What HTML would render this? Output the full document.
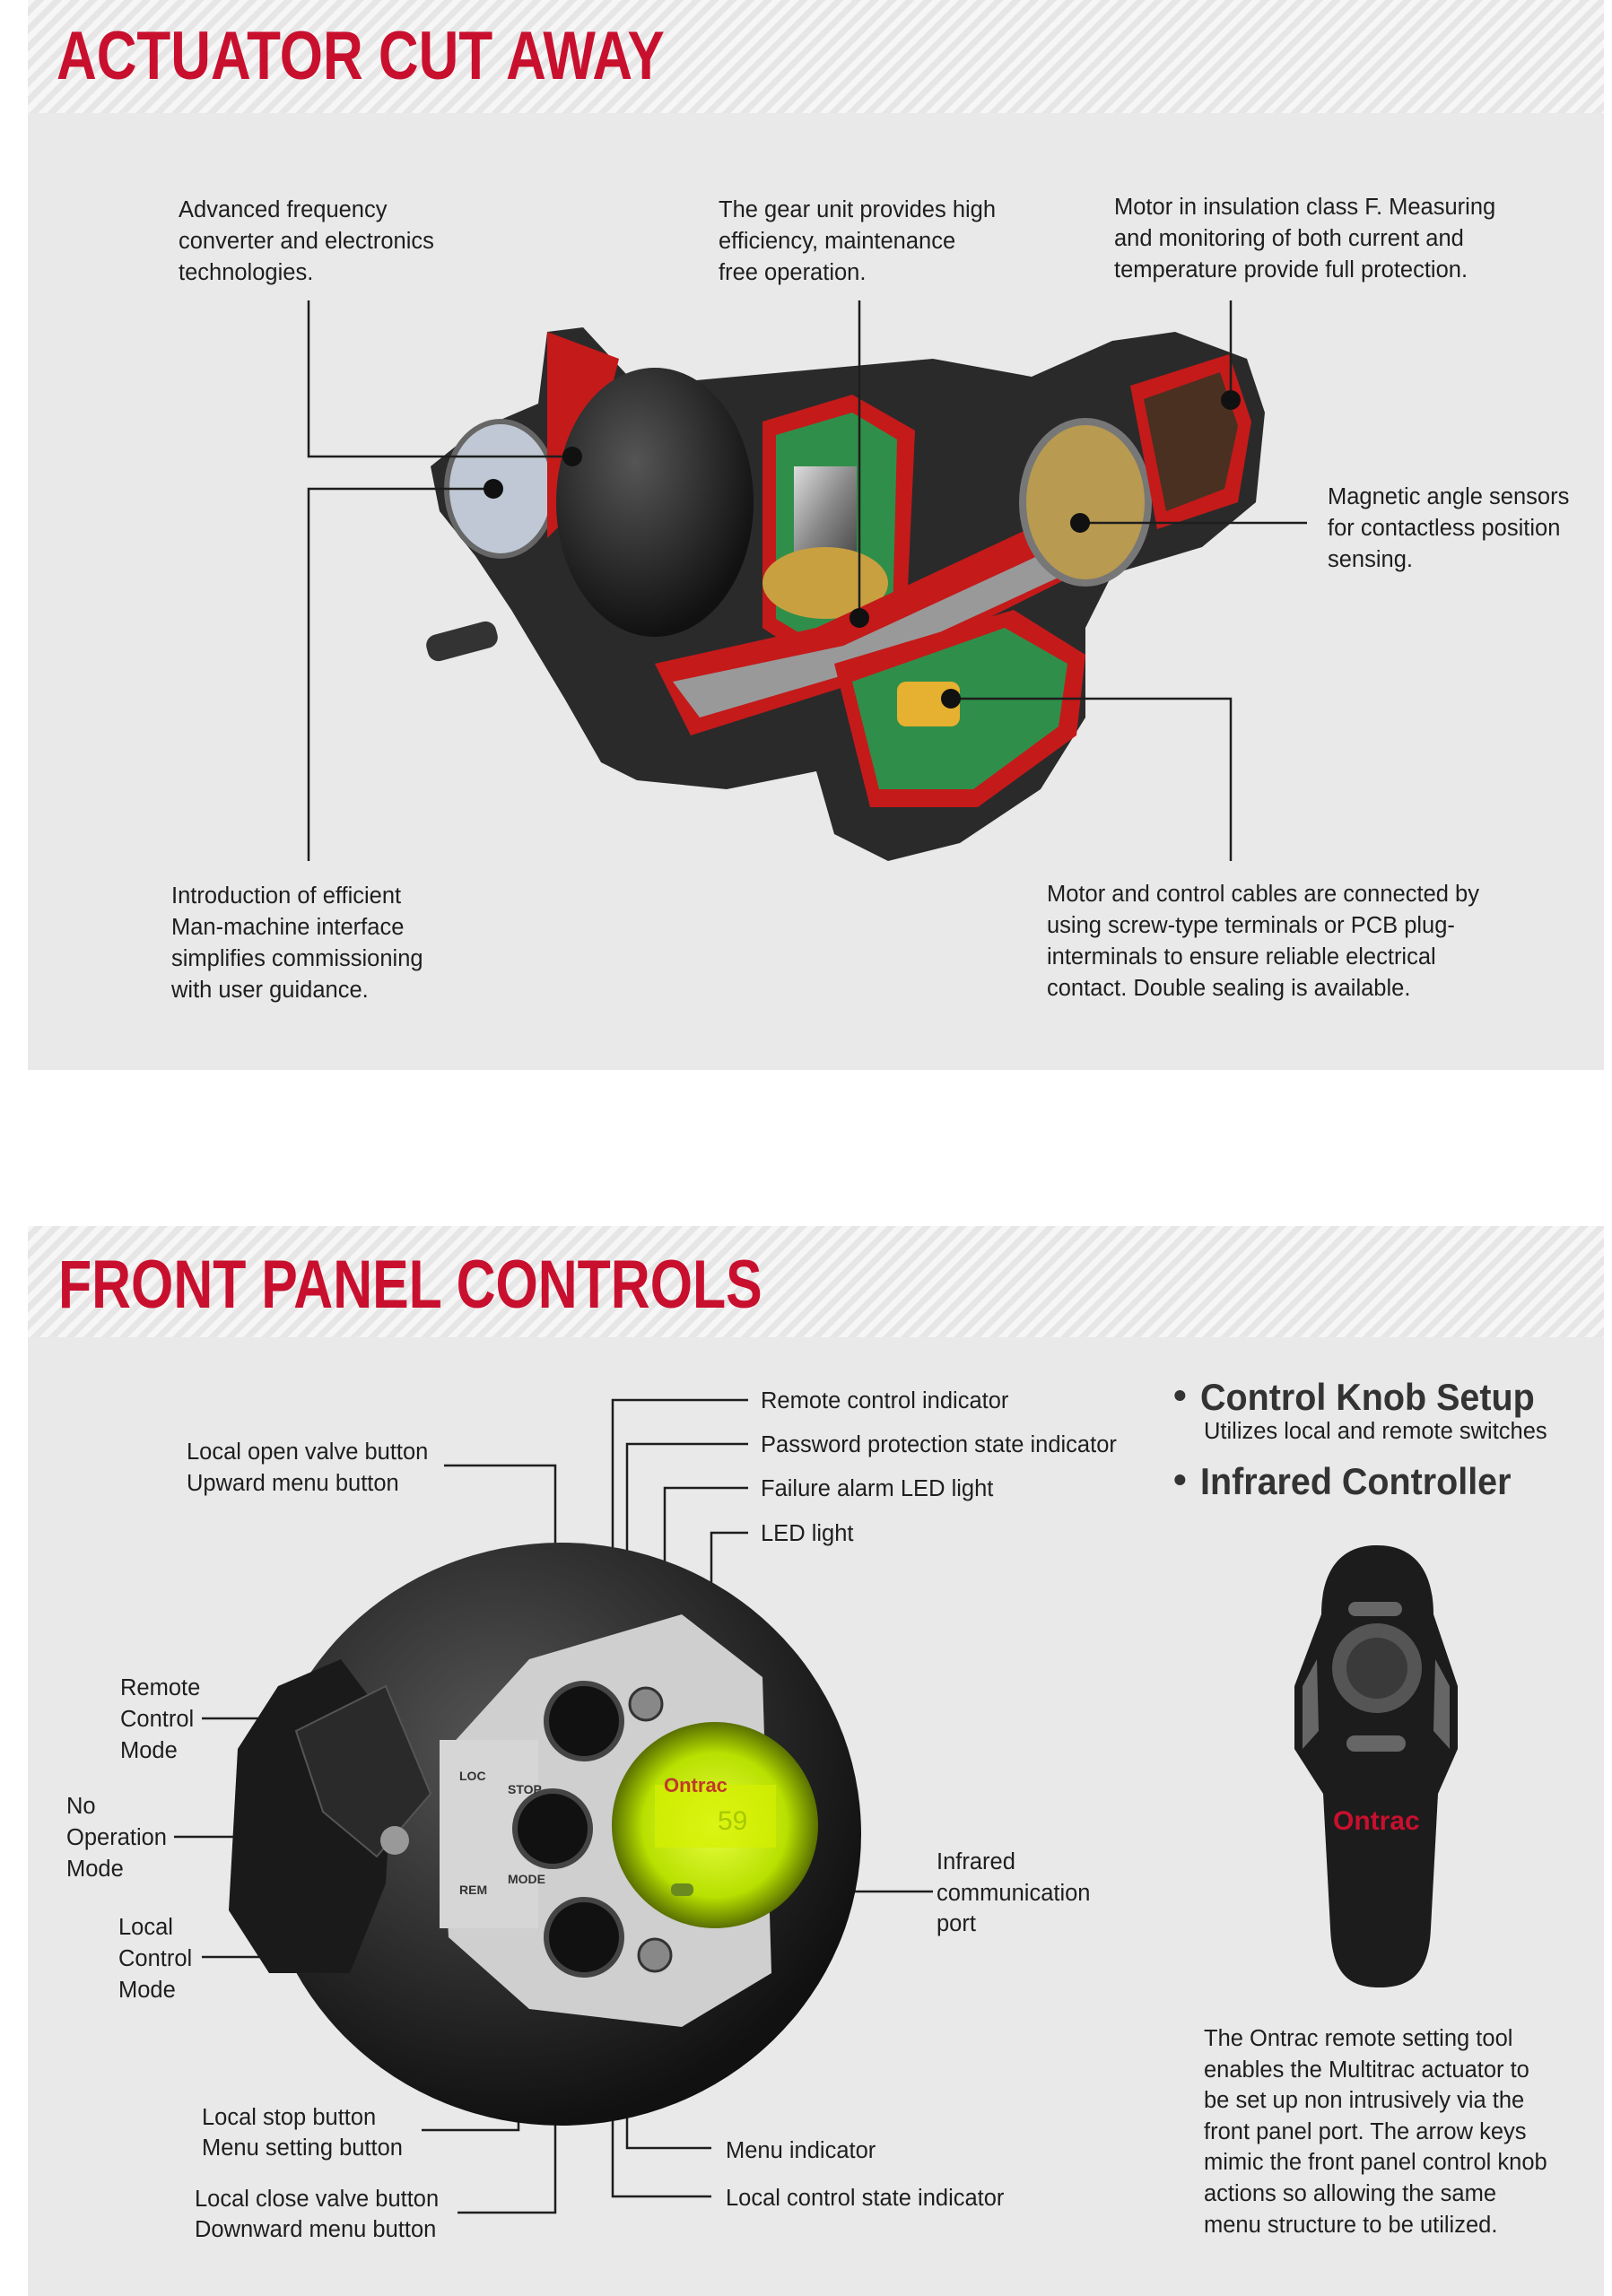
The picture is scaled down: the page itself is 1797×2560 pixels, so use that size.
<!DOCTYPE html>
<html><head><meta charset="utf-8"><style>
html,body{margin:0;padding:0;background:#fff;}
svg{display:block;}
text{font-family:"Liberation Sans",Arial,sans-serif;}
.l{font-size:25.5px;fill:#1e1e1e;}
</style></head><body>
<svg width="1797" height="2560" viewBox="0 0 1797 2560" xmlns="http://www.w3.org/2000/svg">
<defs>
<pattern id="st" width="14" height="14" patternUnits="userSpaceOnUse" patternTransform="rotate(45)">
<rect width="14" height="14" fill="#f6f6f6"/><rect width="7" height="14" fill="#e6e6e6"/>
</pattern>
<radialGradient id="gr" cx="50%" cy="50%" r="50%"><stop offset="0" stop-color="#e8ff40"/><stop offset="0.7" stop-color="#b8e000"/><stop offset="1" stop-color="#5a7000"/></radialGradient>
<radialGradient id="bk" cx="40%" cy="35%" r="65%"><stop offset="0" stop-color="#555"/><stop offset="1" stop-color="#111"/></radialGradient>
<linearGradient id="mt" x1="0" y1="0" x2="1" y2="1"><stop offset="0" stop-color="#ddd"/><stop offset="0.5" stop-color="#888"/><stop offset="1" stop-color="#444"/></linearGradient>
</defs>

<!-- PANEL 1 -->
<rect x="31" y="0" width="1757" height="126" fill="url(#st)"/>
<rect x="31" y="126" width="1757" height="1067" fill="#e9e9e9"/>
<text x="63" y="88" font-size="76" font-weight="bold" fill="#c8102e" transform="translate(63 0) scale(0.815 1) translate(-63 0)">ACTUATOR CUT AWAY</text>

<!-- actuator drawing -->
<g>
<path d="M710 430 L1040 400 L1150 420 L1240 380 L1310 370 L1390 400 L1410 460 L1400 560 L1340 610 L1240 640 L1210 700 L1210 800 L1160 880 L1070 940 L990 960 L930 930 L910 860 L810 880 L710 870 L670 850 L630 780 L570 680 L530 620 L490 570 L480 520 L530 480 L600 450 L610 370 L650 365 Z" fill="#2a2a2a"/>
<ellipse cx="558" cy="545" rx="60" ry="75" fill="#bfc8d4" stroke="#666" stroke-width="6"/>
<path d="M610 370 L690 400 L650 560 L610 600 L610 470 Z" fill="#c41a1a"/>
<ellipse cx="730" cy="560" rx="110" ry="150" fill="url(#bk)"/>
<path d="M850 470 L950 440 L1020 480 L1010 700 L910 740 L850 700 Z" fill="#c41a1a"/>
<path d="M865 485 L950 460 L1000 490 L995 690 L915 720 L865 690 Z" fill="#2f8f4a"/>
<rect x="885" y="520" width="70" height="110" fill="url(#mt)"/>
<ellipse cx="920" cy="650" rx="70" ry="40" fill="#c9a040"/>
<path d="M730 740 L910 700 L1210 560 L1240 620 L960 760 L770 820 Z" fill="#c41a1a"/>
<path d="M750 760 L940 720 L1200 600 L1210 630 L950 750 L780 800 Z" fill="#999"/>
<path d="M930 740 L1130 680 L1210 730 L1200 820 L1090 900 L970 900 Z" fill="#c41a1a"/>
<path d="M950 760 L1120 700 L1190 740 L1180 810 L1085 880 L980 880 Z" fill="#2f8f4a"/>
<rect x="1000" y="760" width="70" height="50" rx="10" fill="#e6b030"/>
<ellipse cx="1210" cy="560" rx="70" ry="90" fill="#b89a50" stroke="#777" stroke-width="8"/>
<path d="M1260 430 L1370 395 L1395 470 L1380 560 L1290 590 Z" fill="#c41a1a"/>
<path d="M1275 445 L1360 415 L1380 475 L1365 545 L1300 570 Z" fill="#4a3020"/>
<rect x="475" y="700" width="80" height="30" rx="12" fill="#333" transform="rotate(-15 515 715)"/>
</g>
<!-- panel1 connectors -->
<g stroke="#1e1e1e" stroke-width="2.5" fill="none">
<polyline points="344,335 344,509 638,509"/>
<polyline points="344,960 344,545 550,545"/>
<line x1="958" y1="335" x2="958" y2="689"/>
<line x1="1372" y1="335" x2="1372" y2="446"/>
<line x1="1204" y1="583" x2="1457" y2="583"/>
<polyline points="1060,779 1372,779 1372,960"/>
</g>
<g fill="#111">
<circle cx="638" cy="509" r="11"/><circle cx="550" cy="545" r="11"/><circle cx="958" cy="689" r="11"/>
<circle cx="1372" cy="446" r="11"/><circle cx="1204" cy="583" r="11"/><circle cx="1060" cy="779" r="11"/>
</g>
<g class="l">
<text x="199" y="242">Advanced frequency</text><text x="199" y="277">converter and electronics</text><text x="199" y="312">technologies.</text>
<text x="801" y="242">The gear unit provides high</text><text x="801" y="277">efficiency, maintenance</text><text x="801" y="312">free operation.</text>
<text x="1242" y="239">Motor in insulation class F. Measuring</text><text x="1242" y="274">and monitoring of both current and</text><text x="1242" y="309">temperature provide full protection.</text>
<text x="1480" y="562">Magnetic angle sensors</text><text x="1480" y="597">for contactless position</text><text x="1480" y="632">sensing.</text>
<text x="191" y="1007">Introduction of efficient</text><text x="191" y="1042">Man-machine interface</text><text x="191" y="1077">simplifies commissioning</text><text x="191" y="1112">with user guidance.</text>
<text x="1167" y="1005">Motor and control cables are connected by</text><text x="1167" y="1040">using screw-type terminals or PCB plug-</text><text x="1167" y="1075">interminals to ensure reliable electrical</text><text x="1167" y="1110">contact. Double sealing is available.</text>
</g>

<!-- PANEL 2 -->
<rect x="31" y="1367" width="1757" height="124" fill="url(#st)"/>
<rect x="31" y="1491" width="1757" height="1069" fill="#e9e9e9"/>
<text x="65" y="1458" font-size="76" font-weight="bold" fill="#c8102e" transform="translate(65 0) scale(0.8 1) translate(-65 0)">FRONT PANEL CONTROLS</text>

<!-- connectors panel2 -->
<g stroke="#1e1e1e" stroke-width="2.5" fill="none">
<polyline points="834,1561 683,1561 683,2033 703,2033"/>
<polyline points="834,1610 699,1610 699,2011 714,2011"/>
<polyline points="834,1659 741,1659 741,1967"/>
<polyline points="834,1709 793,1709 793,1965"/>
<polyline points="793,2449 683,2449 683,2047 703,2047"/>
<polyline points="793,2395 699,2395 699,2067 714,2067"/>
<polyline points="495,1634 619,1634 619,2467 510,2467"/>
<polyline points="470,2375 578,2375 578,2300"/>
<line x1="225" y1="1916" x2="334" y2="1916"/>
<line x1="194" y1="2048" x2="305" y2="2048"/>
<line x1="225" y1="2182" x2="328" y2="2182"/>
<line x1="772" y1="2109" x2="1040" y2="2109"/>
</g>
<!-- front panel device -->
<g>
<ellipse cx="625" cy="2045" rx="335" ry="325" fill="url(#bk)"/>
<path d="M310 1880 L380 1850 L440 1930 L430 2100 L390 2200 L300 2200 L255 2130 L265 1950 Z" fill="#1a1a1a"/>
<path d="M330 1930 L430 1880 L480 2000 L420 2070 L360 2020 Z" fill="#2a2a2a" stroke="#555" stroke-width="2"/>
<circle cx="440" cy="2052" r="16" fill="#999"/>
<path d="M590 1850 L760 1800 L850 1870 L860 2200 L760 2260 L590 2240 L500 2160 L490 1960 Z" fill="#cfcfcf"/>
<rect x="490" y="1940" width="110" height="210" fill="#d6d6d6"/>
<circle cx="797" cy="2035" r="115" fill="url(#gr)"/>
<rect x="730" y="1990" width="135" height="70" fill="#d6f000" opacity="0.7"/>
<text x="740" y="1998" font-size="22" font-weight="bold" fill="#c0392b">Ontrac</text>
<text x="800" y="2040" font-size="30" fill="#a8c800">59</text>
<circle cx="651" cy="1919" r="42" fill="#111" stroke="#444" stroke-width="6"/>
<circle cx="616" cy="2039" r="42" fill="#111" stroke="#444" stroke-width="6"/>
<circle cx="651" cy="2160" r="42" fill="#111" stroke="#444" stroke-width="6"/>
<circle cx="720" cy="1900" r="18" fill="#888" stroke="#333" stroke-width="3"/>
<circle cx="730" cy="2180" r="18" fill="#888" stroke="#333" stroke-width="3"/>
<text x="566" y="2000" font-size="14" font-weight="bold" fill="#333">STOP</text>
<text x="566" y="2100" font-size="14" font-weight="bold" fill="#333">MODE</text>
<text x="512" y="1985" font-size="14" font-weight="bold" fill="#333">LOC</text>
<text x="512" y="2112" font-size="14" font-weight="bold" fill="#333">REM</text>
<rect x="748" y="2100" width="25" height="14" rx="6" fill="#6a8a20"/>
</g>
<g class="l">
<text x="848" y="1570">Remote control indicator</text>
<text x="848" y="1619">Password protection state indicator</text>
<text x="848" y="1668">Failure alarm LED light</text>
<text x="848" y="1718">LED light</text>
<text x="208" y="1627">Local open valve button</text><text x="208" y="1662">Upward menu button</text>
<text x="134" y="1890">Remote</text><text x="134" y="1925">Control</text><text x="134" y="1960">Mode</text>
<text x="74" y="2022">No</text><text x="74" y="2057">Operation</text><text x="74" y="2092">Mode</text>
<text x="132" y="2157">Local</text><text x="132" y="2192">Control</text><text x="132" y="2227">Mode</text>
<text x="1044" y="2084">Infrared</text><text x="1044" y="2119">communication</text><text x="1044" y="2153">port</text>
<text x="225" y="2369">Local stop button</text><text x="225" y="2403">Menu setting button</text>
<text x="217" y="2460">Local close valve button</text><text x="217" y="2494">Downward menu button</text>
<text x="809" y="2406">Menu indicator</text>
<text x="809" y="2459">Local control state indicator</text>
</g>

<!-- right column -->
<g fill="#333" font-weight="bold" font-size="42">
<text x="1308" y="1570">•</text>
<text x="1338" y="1572" transform="translate(1338 0) scale(0.94 1) translate(-1338 0)">Control Knob Setup</text>
<text x="1308" y="1664">•</text>
<text x="1338" y="1666" transform="translate(1338 0) scale(0.94 1) translate(-1338 0)">Infrared Controller</text>
</g>
<text class="l" x="1342" y="1604">Utilizes local and remote switches</text>
<!-- remote -->
<g>
<path d="M1535 1723 C1583 1723 1598 1760 1598 1800 L1625 1880 L1625 1950 L1603 2000 L1595 2150 C1593 2200 1573 2216 1538 2216 C1503 2216 1485 2200 1483 2150 L1475 2000 L1443 1950 L1443 1880 L1473 1800 C1473 1760 1488 1723 1535 1723 Z" fill="#1c1c1c"/>
<path d="M1452 1880 L1468 1850 L1470 1930 L1452 1950 Z" fill="#666"/>
<path d="M1616 1880 L1600 1850 L1598 1930 L1616 1950 Z" fill="#666"/>
<circle cx="1535" cy="1860" r="50" fill="#555"/>
<circle cx="1535" cy="1860" r="34" fill="#3a3a3a"/>
<rect x="1503" y="1786" width="60" height="16" rx="8" fill="#666"/>
<rect x="1501" y="1935" width="66" height="18" rx="9" fill="#666"/>
<text x="1486" y="2040" font-size="30" font-weight="bold" fill="#c8102e">Ontrac</text>
</g>
<g class="l">
<text x="1342" y="2281">The Ontrac remote setting tool</text>
<text x="1342" y="2316">enables the Multitrac actuator to</text>
<text x="1342" y="2350">be set up non intrusively via the</text>
<text x="1342" y="2385">front panel port. The arrow keys</text>
<text x="1342" y="2419">mimic the front panel control knob</text>
<text x="1342" y="2454">actions so allowing the same</text>
<text x="1342" y="2489">menu structure to be utilized.</text>
</g>
</svg>
</body></html>
